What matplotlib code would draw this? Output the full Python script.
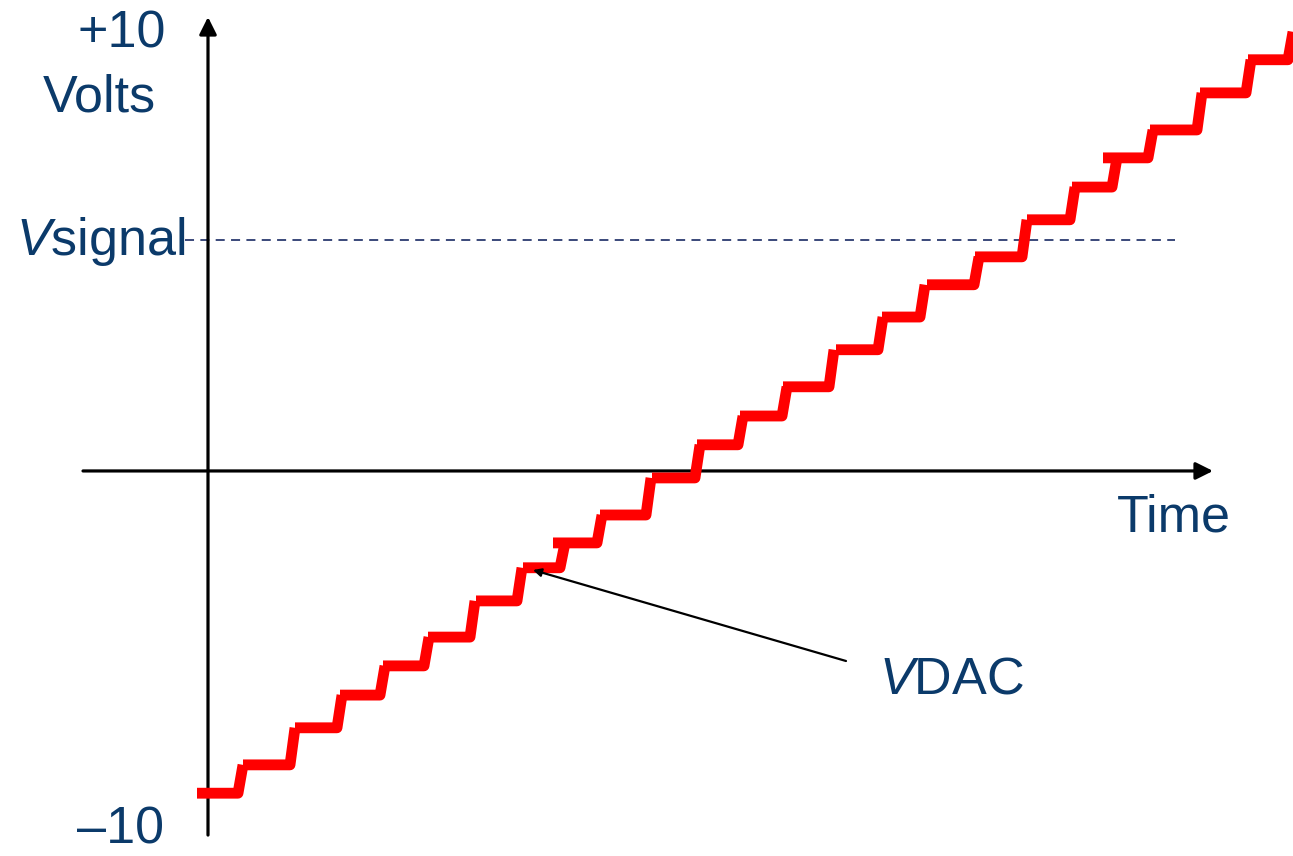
import matplotlib
matplotlib.use('Agg')
import matplotlib.pyplot as plt

plt.rcParams['font.family'] = ['Liberation Sans', 'DejaVu Sans']
plt.rcParams['mathtext.fontset'] = 'custom'
plt.rcParams['mathtext.rm'] = 'Liberation Sans'
plt.rcParams['mathtext.it'] = 'Liberation Sans:italic'

# staircase: level (volts), start / end of each flat (time units)
levels = [-7.39, -6.74, -5.89, -5.14, -4.47, -3.81, -2.98, -2.22, -1.65, -1.01,
          -0.16, 0.60, 1.26, 1.93, 2.78, 3.53, 4.27, 4.91, 5.76, 6.51,
          7.18, 7.82, 8.67, 9.43]
starts = [-0.22, 0.70, 1.74, 2.64, 3.50, 4.40, 5.36, 6.30, 6.90, 7.84,
          8.88, 9.78, 10.64, 11.50, 12.56, 13.48, 14.38, 15.34, 16.38, 17.28,
          17.90, 18.84, 19.84, 20.80]
ends = [0.60, 1.64, 2.58, 3.44, 4.32, 5.24, 6.18, 7.04, 7.78, 8.76,
        9.74, 10.60, 11.48, 12.42, 13.40, 14.24, 15.32, 16.28, 17.24, 18.08,
        18.80, 19.78, 20.76, 21.60]
final_level = 10.07
v_signal = 5.30
rise = 0.10

W, H = 1293, 856
fig = plt.figure(figsize=(W / 100, H / 100), dpi=100)
ax = fig.add_axes([0, 0, 1, 1])
ax.set_xlim(-4.16, 21.70)
ax.set_ylim(-8.83, 10.80)
ax.axis('off')

navy = '#0B3A6A'

# axes with arrows
ax.annotate('', xy=(0, 10.41), xytext=(0, -8.35),
            arrowprops=dict(arrowstyle='-|>', lw=2.3, color='black',
                            mutation_scale=26, shrinkA=0, shrinkB=0))
ax.annotate('', xy=(20.10, 0), xytext=(-2.50, 0),
            arrowprops=dict(arrowstyle='-|>', lw=2.3, color='black',
                            mutation_scale=26, shrinkA=0, shrinkB=0))

# Vsignal dashed line
ax.plot([-0.46, 19.34], [v_signal, v_signal], color='#2B3A70', lw=1.3,
        dashes=(5, 3.5))

# staircase
for i in range(len(levels)):
    nxt = levels[i + 1] if i + 1 < len(levels) else final_level
    ax.plot([starts[i], ends[i], ends[i] + rise], [levels[i], levels[i], nxt],
            color='red', lw=7.8, solid_capstyle='butt', solid_joinstyle='round',
            zorder=3)


def px(x, y):
    return x / W, 1 - y / H


fs = 37.5
ax.text(*px(78, 47), '+10', transform=ax.transAxes, fontsize=fs, color=navy,
        ha='left', va='baseline')
ax.text(*px(43, 112), 'Volts', transform=ax.transAxes, fontsize=fs, color=navy,
        ha='left', va='baseline')
ax.text(*px(16, 255), r'$\mathit{V}$signal', transform=ax.transAxes, fontsize=fs,
        color=navy, ha='left', va='baseline')
ax.text(*px(1117, 532), 'Time', transform=ax.transAxes, fontsize=fs, color=navy,
        ha='left', va='baseline')
ax.text(*px(77, 843), '\u201310', transform=ax.transAxes, fontsize=fs, color=navy,
        ha='left', va='baseline')

# VDAC label with pointer
ax.text(*px(879, 694), r'$\mathit{V}$DAC', transform=ax.transAxes, fontsize=fs,
        color=navy, ha='left', va='baseline')
ax.annotate('', xy=px(533, 570), xycoords='axes fraction',
            xytext=px(846, 661), textcoords='axes fraction',
            arrowprops=dict(arrowstyle='-|>', lw=1.6, color='black',
                            mutation_scale=12, shrinkA=0, shrinkB=0), zorder=4)

fig.savefig('out.png', dpi=100)
